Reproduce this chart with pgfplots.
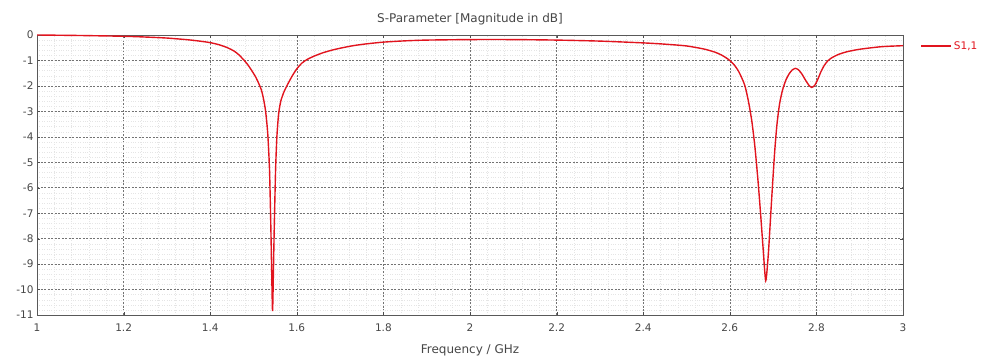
\documentclass[border=0pt]{standalone}
\usepackage{pgfplots}
\pgfplotsset{compat=1.18}
\usepackage{fontspec}
\setmainfont{DejaVu Sans}
\definecolor{curve}{RGB}{225,20,30}
\definecolor{txt}{RGB}{70,70,70}
\begin{document}
\begin{tikzpicture}
\useasboundingbox (-37pt,-48pt) rectangle (950pt,315pt);
\begin{axis}[
  at={(0pt,0pt)}, anchor=south west,
  scale only axis, width=866pt, height=280pt,
  xmin=1, xmax=3, ymin=-11, ymax=0,
  xtick={1,1.2,...,3.01}, ytick={-11,-10,...,0},
  minor x tick num=4, minor y tick num=4,
  xticklabel style={/pgf/number format/fixed, /pgf/number format/precision=1, yshift=-5pt},
  /pgf/number format/assume math mode=true,
  ticklabel style={font=\fontsize{10.5}{12}\selectfont, text=txt},
  axis line style={black!65, line width=0.9pt},
  tick style={black!70},
  major tick length=3pt, minor tick length=0pt,
  grid=both,
  major grid style={black!55, dash pattern=on 2pt off 1.5pt, line width=0.5pt},
  minor grid style={black!10, dotted, line width=0.4pt},
  title={S-Parameter [Magnitude in dB]},
  title style={font=\fontsize{12}{14}\selectfont, text=txt, yshift=0pt},
  xlabel={Frequency / GHz},
  xlabel style={font=\fontsize{12}{14}\selectfont, text=txt, yshift=-6pt},
  legend style={at={(1.02,0.985)}, anchor=north west, draw=none, fill=none,
    font=\fontsize{10.5}{12}\selectfont, text=curve, inner sep=0pt},
  legend image code/.code={\draw[#1] (0pt,0pt) -- (30pt,0pt);},
  legend cell align=left,
]
\addplot[curve, line width=1.4pt, smooth, tension=0.4] coordinates {
(1.00,0) (1.10,-0.02) (1.20,-0.05) (1.25,-0.08) (1.30,-0.12) (1.35,-0.19)
(1.38,-0.25) (1.40,-0.30) (1.42,-0.38) (1.44,-0.5) (1.455,-0.63) (1.465,-0.76)
(1.476,-0.95) (1.486,-1.15) (1.496,-1.4) (1.505,-1.65) (1.512,-1.9) (1.518,-2.15)
(1.523,-2.5) (1.528,-3.0) (1.533,-3.9) (1.537,-5.3) (1.540,-7.5) (1.542,-9.3)
(1.544,-10.85) (1.546,-9.3) (1.548,-7.5) (1.551,-5.3) (1.554,-4.0) (1.558,-3.1)
(1.563,-2.6) (1.57,-2.25) (1.577,-2.0) (1.589,-1.62) (1.60,-1.33) (1.612,-1.1) (1.625,-0.95)
(1.64,-0.83) (1.66,-0.7) (1.68,-0.6) (1.70,-0.52) (1.73,-0.42) (1.76,-0.35)
(1.80,-0.28) (1.85,-0.23) (1.90,-0.2) (2.00,-0.18) (2.10,-0.18) (2.20,-0.2)
(2.30,-0.24) (2.40,-0.31) (2.45,-0.36) (2.50,-0.43) (2.54,-0.55) (2.565,-0.67)
(2.58,-0.78) (2.59,-0.88) (2.60,-1.0) (2.61,-1.17) (2.62,-1.42) (2.628,-1.7)
(2.635,-2.0) (2.643,-2.6) (2.651,-3.4) (2.658,-4.4) (2.665,-5.7) (2.671,-7.0)
(2.677,-8.4) (2.683,-9.65) (2.689,-8.6) (2.694,-7.2) (2.699,-5.8) (2.704,-4.5)
(2.709,-3.5) (2.715,-2.7) (2.722,-2.15) (2.73,-1.75) (2.738,-1.5) (2.745,-1.36)
(2.751,-1.31) (2.758,-1.36) (2.766,-1.52) (2.774,-1.75) (2.782,-1.96) (2.789,-2.06)
(2.796,-1.98) (2.803,-1.75) (2.81,-1.46) (2.818,-1.2) (2.826,-1.02) (2.835,-0.9)
(2.85,-0.77) (2.87,-0.66) (2.90,-0.56) (2.95,-0.46) (3.00,-0.42)
};
\addlegendentry{S1,1}
\end{axis}
\end{tikzpicture}
\end{document}
